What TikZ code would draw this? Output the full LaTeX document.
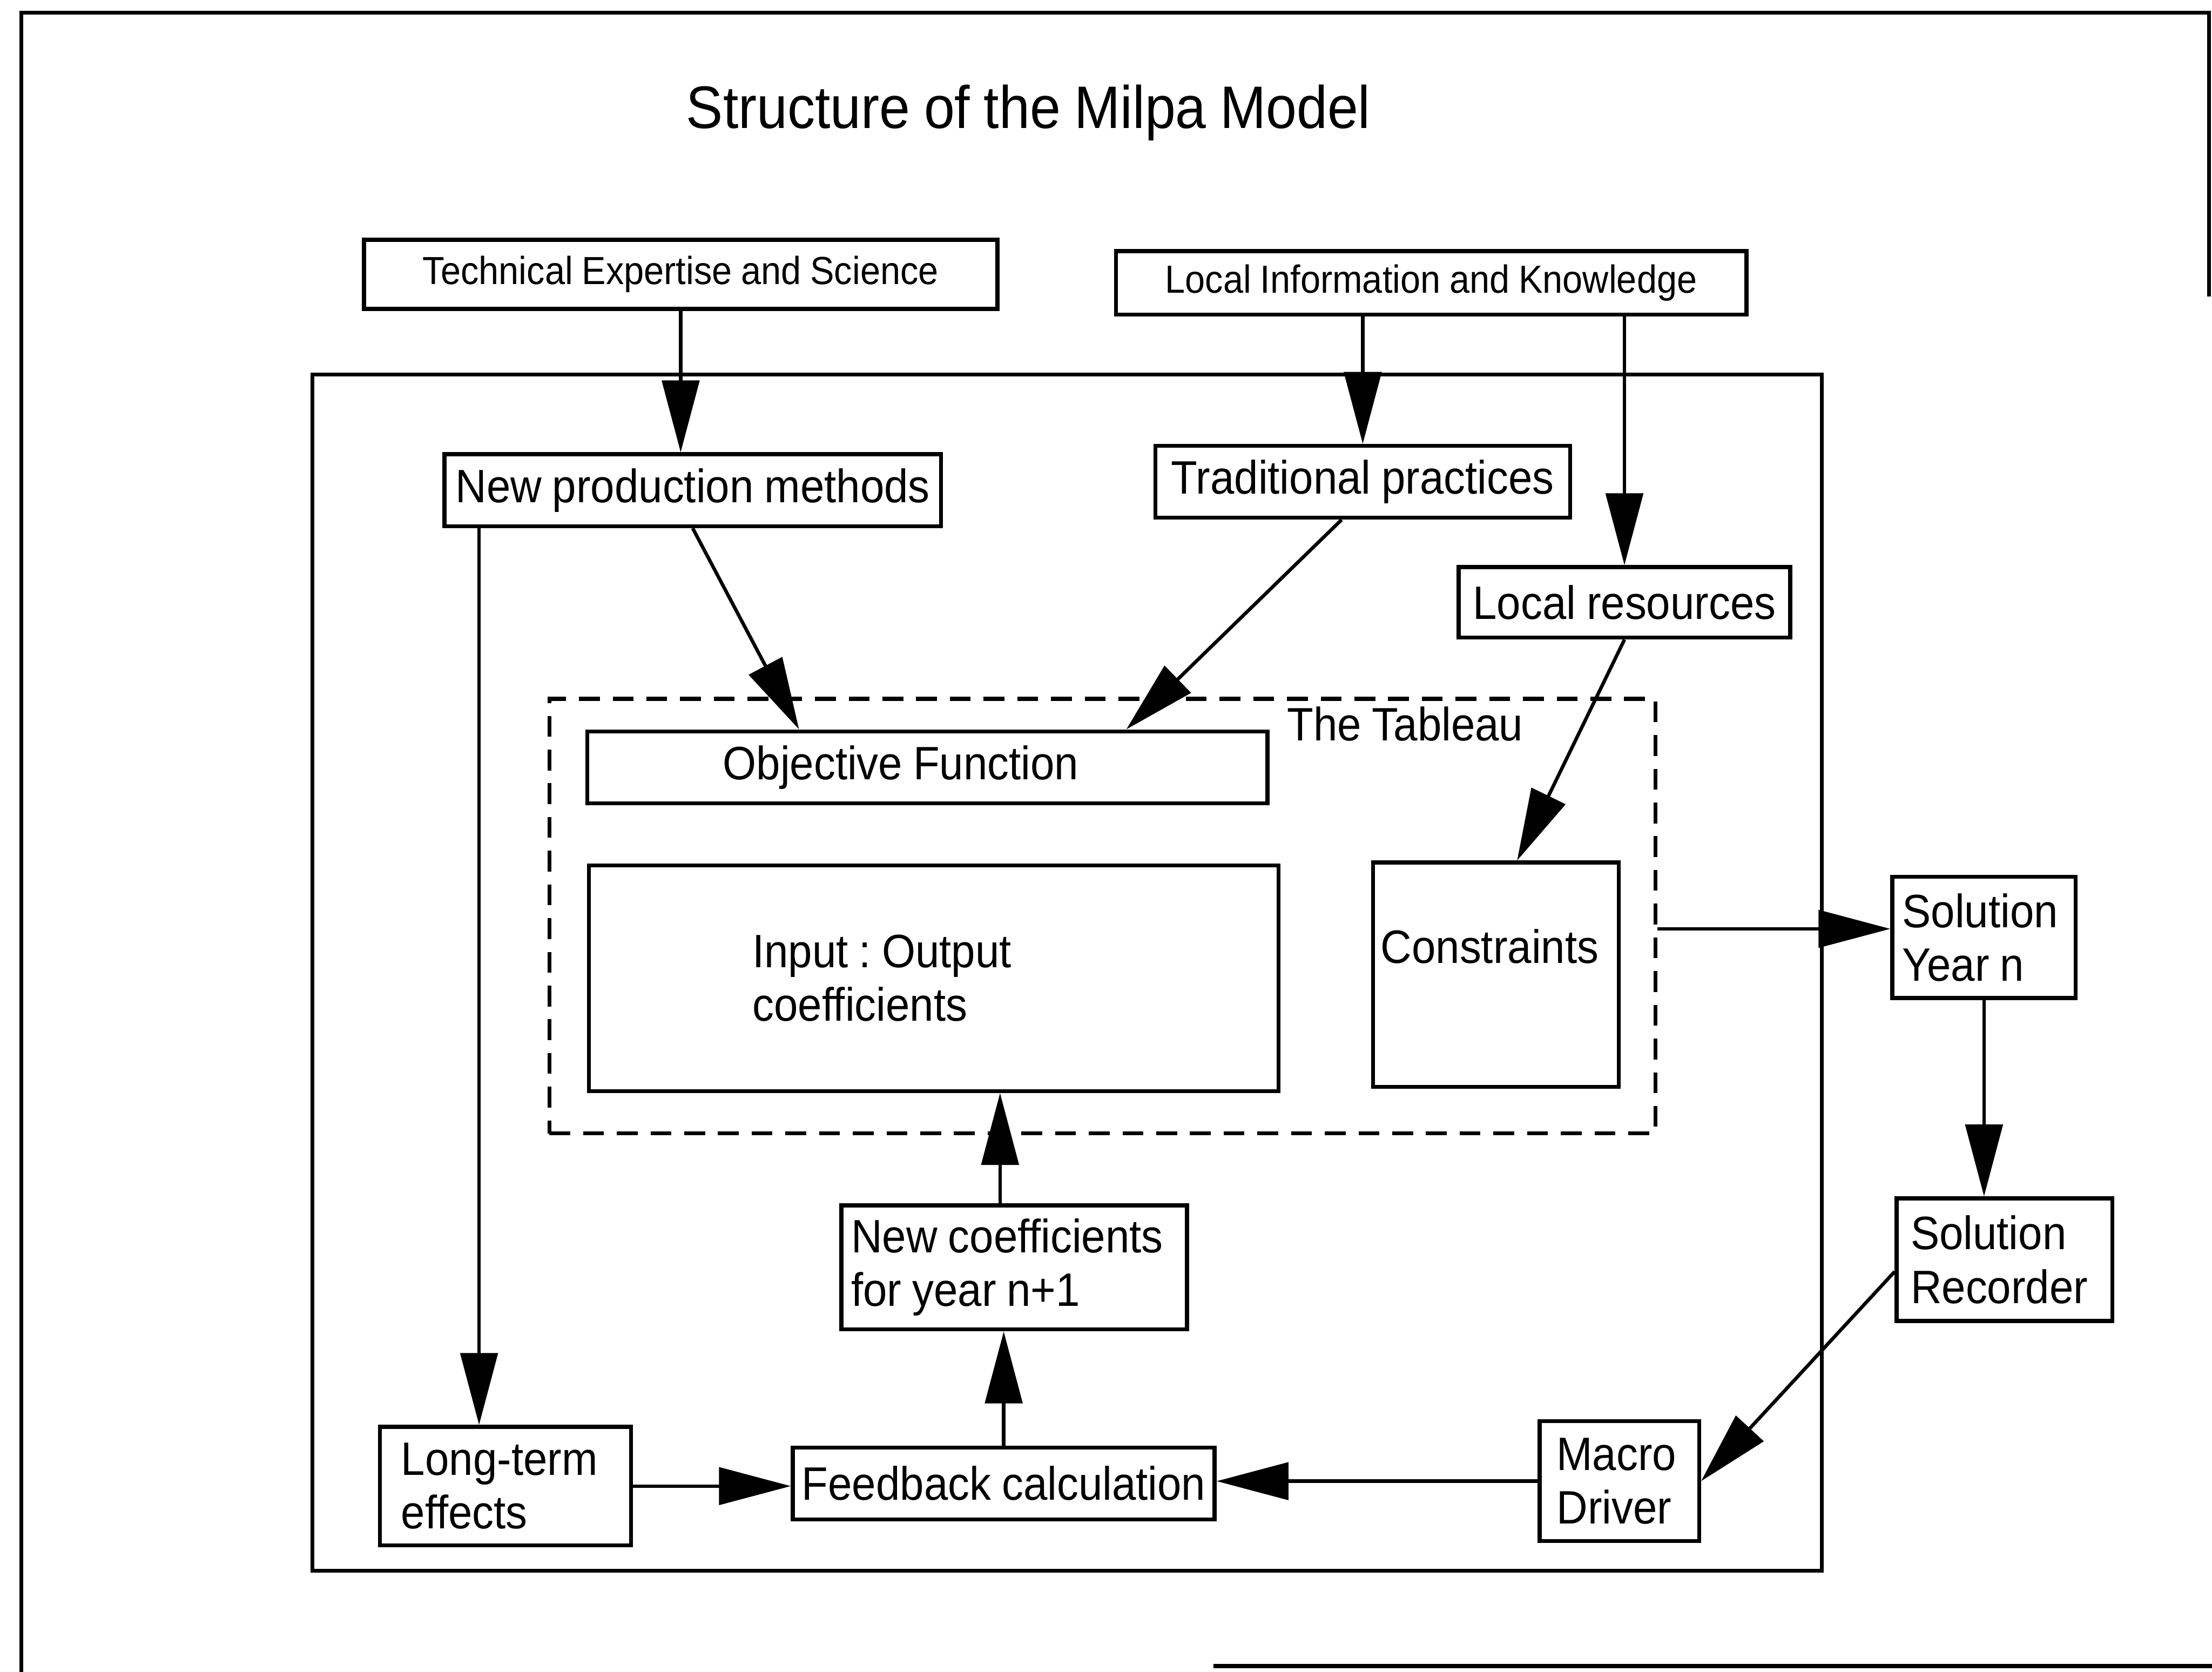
\documentclass[tikz,border=0pt]{standalone}
\usepackage{fontspec}
\setmainfont{Liberation Sans}[FakeStretch=0.92,WordSpace=0.9]
\usetikzlibrary{arrows.meta,calc}
\frenchspacing

\newcommand\mlBox{\fontsize{9.45}{10.8}\selectfont}
\newcommand\mlSmall{\fontsize{7.9}{9.5}\selectfont}
\newcommand\mlTitle{\fontsize{12.1}{14}\selectfont}

\begin{document}
\begin{tikzpicture}[x=0.1mm,y=-0.1mm,
  every node/.style={inner sep=0pt},
  box/.style={draw,line width=0.8pt,font=\mlBox,align=center},
  lbox/.style={draw,line width=0.8pt,font=\mlBox,align=flush left,anchor=north west,inner ysep=0pt},
  modelframe/.style={draw,line width=0.75pt,anchor=north west},
  dashbox/.style={draw,line width=0.8pt,dash pattern=on 4.2pt off 2.6pt,anchor=north west},
  arr/.style={line width=0.7pt,-{Triangle[length=14.5pt,width=7.5pt]}},
  edge line/.style={line width=0.8pt}
]
\useasboundingbox (0,0) rectangle (1568,1185);

% page border
\draw[edge line] (1566,210) -- (1566,9) -- (15,9) -- (15,1185);
\draw[edge line] (860,1181) -- (1568,1181);

% title
\node[font=\mlTitle] (title) at (729,80) {Structure of the Milpa Model};

% external sources
\node[box,font=\mlSmall,minimum width=44.9mm,minimum height=4.9mm] (tech) at (482.5,194.5) {Technical Expertise and Science};
\node[box,font=\mlSmall,minimum width=44.7mm,minimum height=4.5mm] (info) at (1014.5,200.5) {Local Information and Knowledge};

% model boundary
\node[modelframe,minimum width=107mm,minimum height=84.8mm] (model) at (220,264) {};

% inputs to the tableau
\node[box,minimum width=35.2mm,minimum height=5.1mm] (newprod) at (491,347.5) {New production methods};
\node[box,minimum width=29.4mm,minimum height=5.1mm] (trad) at (966,341.5) {Traditional practices};
\node[box,minimum width=23.5mm,minimum height=5mm] (locres) at (1151.5,427) {Local resources};

% the tableau
\node[dashbox,minimum width=78.4mm,minimum height=30.8mm] (tableau) at (388,494) {};
\node[font=\mlBox] (tablabel) at (996,513) {The Tableau};
\node[lbox,inner xsep=9.6mm,text width=29.0mm,minimum height=5.1mm] (objfun) at (415,517) {Objective Function};
\node[lbox,inner xsep=11.6mm,text width=25.7mm,minimum height=16mm] (io) at (416,612) {Input : Output\\coefficients};
\node[lbox,minimum width=17.4mm,minimum height=15.9mm] (cons) at (972,610) {};
\node[font=\mlBox] (constext) at (1056,671) {Constraints};

% solution handling
\node[lbox,inner xsep=0.7mm,text width=11.6mm,minimum height=8.6mm] (solyear) at (1340,620) {Solution\\Year n};
\node[lbox,inner xsep=1mm,text width=13.3mm,minimum height=8.7mm] (solrec) at (1343,848) {Solution\\Recorder};
\node[lbox,inner xsep=1.2mm,text width=8.9mm,minimum height=8.5mm] (macro) at (1090,1006) {Macro\\Driver};

% feedback loop
\node[lbox,inner xsep=0.7mm,text width=23.1mm,minimum height=8.8mm] (newcoef) at (595,853) {New coefficients\\for year n+1};
\node[box,minimum width=29.9mm,minimum height=5.1mm] (fb) at (711.5,1051.5) {Feedback calculation};
\node[lbox,inner xsep=1.5mm,text width=14.8mm,minimum height=8.4mm] (lt) at (268,1010) {Long-term\\effects};

% connectors
\draw[arr] (tech.south) -- (tech.south |- newprod.north);
\draw[arr] (info.south -| trad.north) -- (trad.north);
\draw[arr] (info.south -| locres.north) -- (locres.north);
\draw[arr] (newprod.south) -- ([xshift=-9.1mm]objfun.north);
\draw[arr] ([xshift=-1.5mm]trad.south) -- ([xshift=14.1mm]objfun.north);
\draw[arr] (locres.south) -- ([xshift=1.5mm]cons.north);

\coordinate (syin) at ([yshift=0.6mm]solyear.west);
\draw[arr] (tableau.east |- syin) -- (syin);
\draw[arr] (solyear.south) -- (solyear.south |- solrec.north);
\draw[arr] ([yshift=-0.85mm]solrec.west) -- (macro.east);
\draw[arr] (macro.west) -- (macro.west -| fb.east);
\draw[arr] (lt.east) -- (lt.east -| fb.west);
\draw[arr] (fb.north) -- (fb.north |- newcoef.south);
\coordinate (ncup) at ([xshift=-1mm]newcoef.north);
\draw[arr] (ncup) -- (ncup |- io.south);
\coordinate (npdown) at ([xshift=2.6mm]newprod.south west);
\draw[arr] (npdown) -- (npdown |- lt.north);
\end{tikzpicture}
\end{document}
